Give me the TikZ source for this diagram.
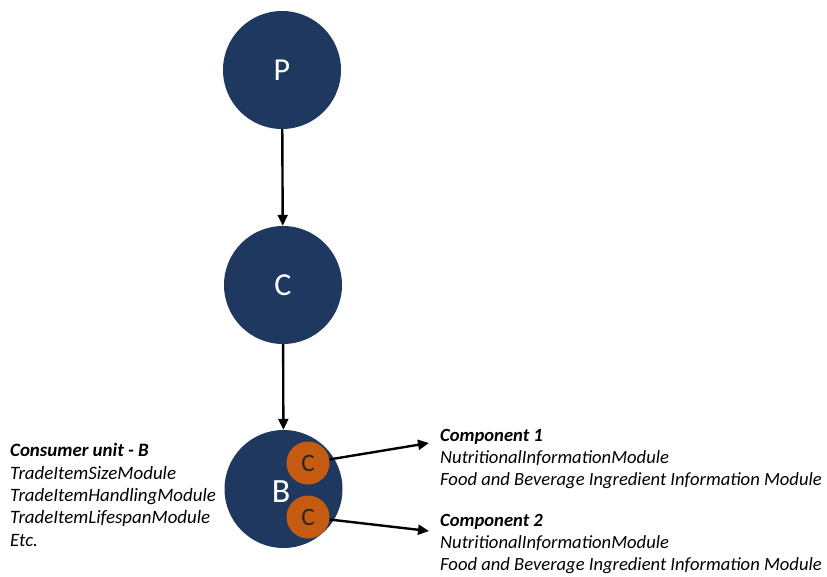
\documentclass[tikz,border=0pt]{standalone}
\usepackage{fontspec}
\setmainfont{Carlito}
\usetikzlibrary{arrows.meta}
\definecolor{navy}{RGB}{31,56,96}
\definecolor{rust}{RGB}{197,90,17}
\tikzset{
  big/.style={circle,fill=navy,minimum size=118pt,inner sep=0pt,text=white,font=\fontsize{32}{36}\selectfont},
  small/.style={circle,fill=rust,minimum size=43pt,inner sep=0pt,text=black!85,font=\fontsize{25}{28}\selectfont},
  link/.style={line width=2.4pt,-{Triangle[length=11pt,width=10pt]}},
  info/.style={align=left,inner sep=0pt,anchor=base west,font=\itshape\fontsize{18.6}{21.8}\selectfont},
  infol/.style={info,font=\itshape\fontsize{18.9}{22.3}\selectfont},
}
\begin{document}
\begin{tikzpicture}[x=1pt,y=-1pt]
\useasboundingbox (0,0) rectangle (827,576);
\node[big] (p) at (282,70) {P};
\node[big] (c) at (283,285) {C};
\node[big] (b) at (283.5,489) {};
\node[text=white,font=\fontsize{34}{38}\selectfont] (bl) at (281,492) {B};
\node[small] (c1) at (308,463) {C};
\node[small] (c2) at (308,517) {C};
\draw[link] (p) -- (c);
\draw[link] (c) -- (b);
\coordinate (t1) at (429,443);
\coordinate (t2) at (429,531);
\draw[link] (c1) -- (t1);
\draw[link] (c2) -- (t2);
\node[infol] (consumer) at (10,546) {\textbf{Consumer unit - B}\\TradeItemSizeModule\\TradeItemHandlingModule\\TradeItemLifespanModule\\Etc.};
\node[info] (comp1) at (440,485) {\textbf{Component 1}\\NutritionalInformationModule\\Food and Beverage Ingredient Information Module};
\node[info] (comp2) at (440,570) {\textbf{Component 2}\\NutritionalInformationModule\\Food and Beverage Ingredient Information Module};
\end{tikzpicture}
\end{document}
